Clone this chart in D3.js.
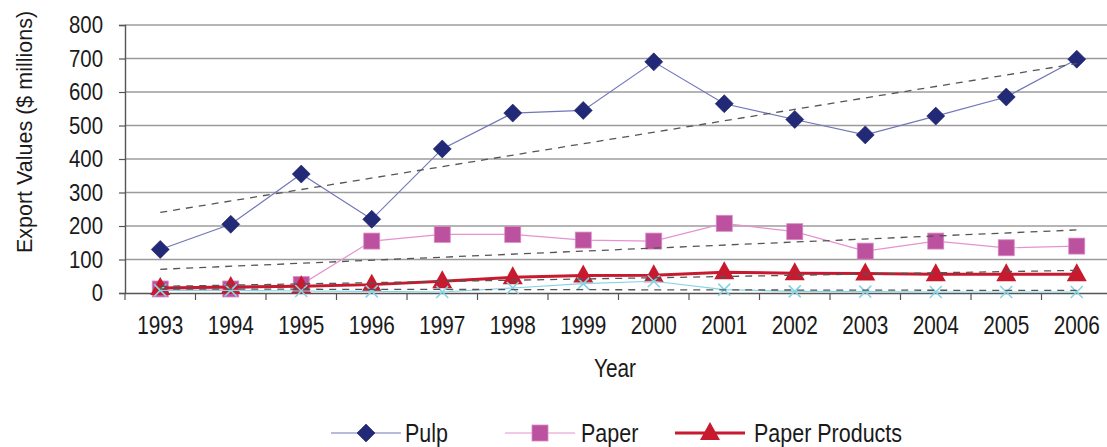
<!DOCTYPE html>
<html>
<head>
<meta charset="utf-8">
<script src="https://cdn.jsdelivr.net/npm/d3@7"></script>
<style>
  html, body { margin: 0; padding: 0; background: #fff; }
  svg { display: block; }
  text { font-family: "Liberation Sans", Arial, sans-serif; fill: #1a1a1a; }
</style>
</head>
<body>
<svg id="chart" width="1107" height="447"></svg>
<script>
// ---- data ----
const years = ["1993","1994","1995","1996","1997","1998","1999","2000","2001","2002","2003","2004","2005","2006"];
const pulp = [130, 205, 355, 220, 430, 537, 545, 690, 565, 518, 472, 528, 585, 698];
const paper = [12, 12, 25, 155, 175, 175, 158, 155, 208, 183, 125, 155, 135, 140];
const paperProducts = [15, 18, 20, 25, 35, 47, 52, 53, 62, 59, 58, 56, 56, 56];
const other = [8, 8, 6, 5, 3, 15, 28, 35, 10, 5, 4, 3, 3, 3];
const yTicks = [0, 100, 200, 300, 400, 500, 600, 700, 800];
const legendNames = ["Pulp", "Paper", "Paper Products"];

// ---- layout ----
const svg = d3.select("#chart");
const plotLeft = 125, plotTop = 25, plotBottom = 293, band = 70.5;
const plotRight = plotLeft + band * years.length;
const x = d3.scaleBand().domain(years).range([plotLeft, plotRight]);
const cx = d => x(d) + x.bandwidth() / 2;
const y = d3.scaleLinear().domain([0, 800]).range([plotBottom, plotTop]);

// horizontal condensing around the text's own x anchor
function condense(sel, f) {
  sel.each(function () {
    const X = +(this.getAttribute("x") || 0);
    d3.select(this).attr("transform", `translate(${X},0) scale(${f},1) translate(${-X},0)`);
  });
}

// gridlines
svg.append("g").selectAll("line").data(yTicks.filter(t => t > 0)).join("line")
  .attr("x1", plotLeft).attr("x2", plotRight)
  .attr("y1", d => y(d)).attr("y2", d => y(d))
  .attr("stroke", "#9c9c9c").attr("stroke-width", 1.6);

// y axis
const yAxis = svg.append("g").attr("transform", `translate(${plotLeft},0)`)
  .call(d3.axisLeft(y).tickValues(yTicks).tickSize(6).tickPadding(16));
yAxis.select(".domain").attr("stroke", "#555").attr("stroke-width", 1.4);
yAxis.selectAll(".tick line").attr("stroke", "#555").attr("stroke-width", 1.2);
yAxis.selectAll(".tick text").attr("font-size", 24).attr("font-family", "Liberation Sans, Arial, sans-serif").attr("fill", "#1a1a1a");
condense(yAxis.selectAll(".tick text"), 0.85);

// x axis
const xAxis = svg.append("g").attr("transform", `translate(0,${plotBottom})`)
  .call(d3.axisBottom(x).tickSize(0).tickPadding(23));
xAxis.select(".domain").attr("stroke", "#555").attr("stroke-width", 1.6);
xAxis.selectAll(".tick text").attr("font-size", 26).attr("font-family", "Liberation Sans, Arial, sans-serif").attr("fill", "#1a1a1a");
condense(xAxis.selectAll(".tick text"), 0.8);
// category boundary ticks
svg.append("g").selectAll("line").data(years).join("line")
  .attr("x1", d => x(d)).attr("x2", d => x(d))
  .attr("y1", plotBottom).attr("y2", plotBottom + 7)
  .attr("stroke", "#555").attr("stroke-width", 1.2);

// axis titles
svg.append("text")
  .attr("transform", `translate(32,132) rotate(-90)`)
  .attr("text-anchor", "middle").attr("font-size", 21.5).text("Export Values ($ millions)");
const xt = svg.append("text").attr("x", 615).attr("y", 377)
  .attr("text-anchor", "middle").attr("font-size", 26).text("Year");
condense(xt, 0.8);

// ---- series ----
const series = [
  { name: "Pulp", values: pulp, line: "#7276b8", lw: 1.2, marker: "diamond", fill: "#222a78" },
  { name: "Paper", values: paper, line: "#e592d0", lw: 1.2, marker: "square", fill: "#bb519f" },
  { name: "Paper Products", values: paperProducts, line: "#c81a2e", lw: 3, marker: "triangle", fill: "#c81a2e" },
  { name: "Other", values: other, line: "#86d3e6", lw: 1.2, marker: "x", fill: "#86d3e6" }
];

const lineGen = vals => d3.line().x((d, i) => cx(years[i])).y(d => y(d))(vals);

function drawMarker(g, s, px, py) {
  if (s.marker === "diamond") {
    g.append("path").attr("d", `M${px},${py - 9}L${px + 9},${py}L${px},${py + 9}L${px - 9},${py}Z`)
      .attr("fill", s.fill).attr("stroke", "#1a1f5e").attr("stroke-width", 0.6);
  } else if (s.marker === "square") {
    g.append("rect").attr("x", px - 8).attr("y", py - 8).attr("width", 16).attr("height", 16)
      .attr("fill", s.fill).attr("stroke", "#d98bc6").attr("stroke-width", 0.8);
  } else if (s.marker === "triangle") {
    g.append("path").attr("d", `M${px},${py - 11}L${px + 10},${py + 7}L${px - 10},${py + 7}Z`)
      .attr("fill", s.fill);
  } else if (s.marker === "x") {
    g.append("path").attr("d", `M${px - 6},${py - 6}L${px + 6},${py + 6}M${px + 6},${py - 6}L${px - 6},${py + 6}`)
      .attr("stroke", s.fill).attr("stroke-width", 1.6).attr("fill", "none");
  }
}

series.forEach(s => {
  const g = svg.append("g");
  g.append("path").attr("d", lineGen(s.values)).attr("fill", "none")
    .attr("stroke", s.line).attr("stroke-width", s.lw);
  s.values.forEach((v, i) => drawMarker(g, s, cx(years[i]), y(v)));
});

// ---- linear trendlines ----
function regression(vals) {
  const n = vals.length;
  const xs = vals.map((d, i) => i);
  const mx = d3.mean(xs), my = d3.mean(vals);
  const b = d3.sum(xs, (xi, i) => (xi - mx) * (vals[i] - my)) / d3.sum(xs, xi => (xi - mx) ** 2);
  const a = my - b * mx;
  return [a, a + b * (n - 1)];
}
series.forEach(s => {
  const [y0, y1] = regression(s.values);
  svg.append("line")
    .attr("x1", cx(years[0])).attr("y1", y(y0))
    .attr("x2", cx(years[years.length - 1])).attr("y2", y(y1))
    .attr("stroke", "#555").attr("stroke-width", 1.3).attr("stroke-dasharray", "7,6");
});

// ---- legend ----
const legendPos = [{ lx: 331, tx: 405 }, { lx: 505, tx: 581 }, { lx: 675, tx: 754 }];
const ly = 433;
series.slice(0, 3).forEach((s, i) => {
  const g = svg.append("g");
  const p = legendPos[i];
  g.append("line").attr("x1", p.lx).attr("x2", p.lx + 70).attr("y1", ly).attr("y2", ly)
    .attr("stroke", s.line).attr("stroke-width", s.lw);
  drawMarker(g, s, p.lx + 35, ly);
  const t = g.append("text").attr("x", p.tx).attr("y", ly + 9).attr("font-size", 25).text(legendNames[i]);
  condense(t, 0.86);
});
</script>
</body>
</html>
